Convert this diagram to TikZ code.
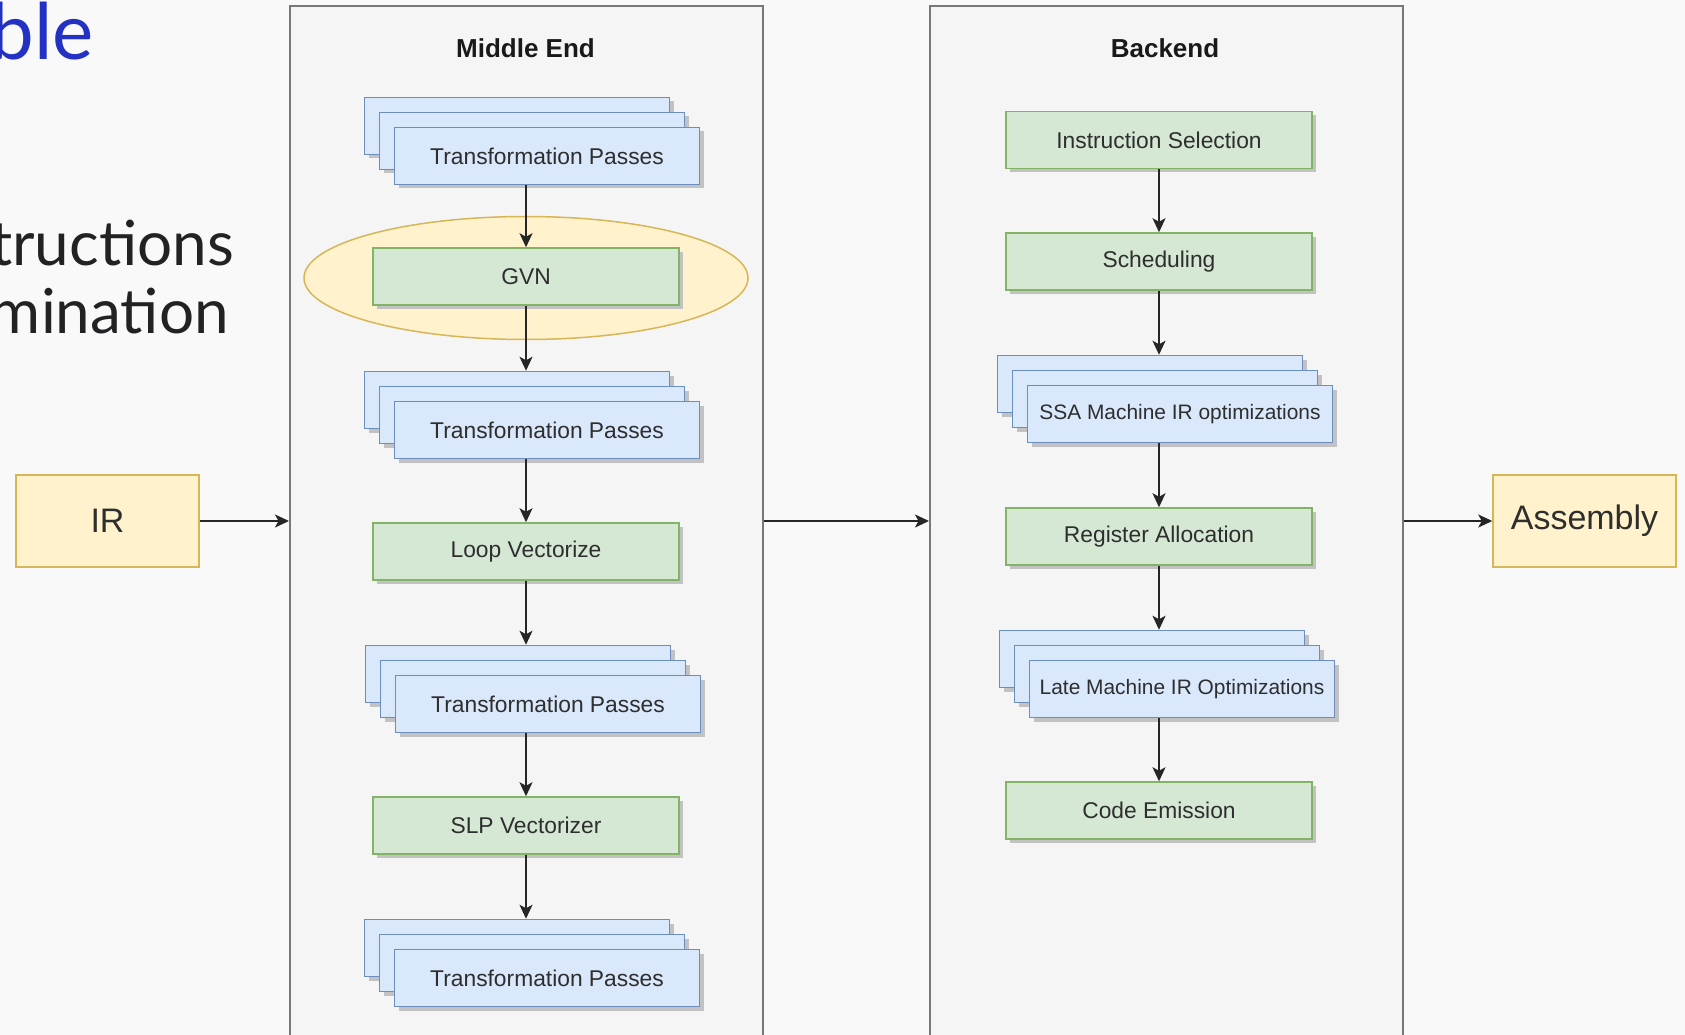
\documentclass[tikz,border=0pt]{standalone}
\usepackage{fontspec}
\setmainfont{Liberation Sans}
\newfontfamily\slidefont{Lato}
\usetikzlibrary{arrows.meta,shadows,shapes.geometric}
\definecolor{pagebg}{RGB}{249,249,249}
\definecolor{contfill}{RGB}{245,245,245}
\definecolor{contline}{RGB}{120,120,120}
\definecolor{greenfill}{HTML}{D5E8D4}
\definecolor{greenline}{HTML}{82B366}
\definecolor{bluefill}{HTML}{DAE8FC}
\definecolor{blueline}{HTML}{6C8EBF}
\definecolor{yelfill}{HTML}{FFF2CC}
\definecolor{yelline}{HTML}{D6B656}
\definecolor{slideblue}{RGB}{35,50,195}
\definecolor{slidetext}{RGB}{34,34,36}
\newcommand{\layerstack}[5]{% name, back cx, back cy, text, font style
  \node[bluebox] (#1-a) at (#2,#3) {};
  \node[bluebox] (#1-b) at (#2+15,#3+15) {};
  \node[bluebox,#5] (#1) at (#2+30,#3+30) {#4};
}
\begin{document}
\begin{tikzpicture}[x=1pt,y=-1pt,
  box/.style={rectangle, minimum width=306, minimum height=57, line width=1.5pt, inner sep=0pt, text=black!82,
    drop shadow={shadow xshift=4pt,shadow yshift=-4pt,opacity=1,fill=black!24}},
  tpfont/.style={font=\fontsize{22.8pt}{27pt}\selectfont},
  mirfont/.style={font=\fontsize{20.9pt}{25pt}\selectfont},
  greenbox/.style={box, draw=greenline, fill=greenfill, tpfont},
  bluebox/.style={box, draw=blueline, fill=bluefill, minimum width=305},
  container/.style={rectangle, draw=contline, fill=contfill, line width=1.8pt, minimum width=473, minimum height=1060, anchor=north west, inner sep=0pt},
  title/.style={font=\bfseries\fontsize{26pt}{30pt}\selectfont, text=black!90, inner sep=0pt},
  endbox/.style={rectangle, draw=yelline, fill=yelfill, line width=1.5pt, minimum width=183, minimum height=92, inner sep=0pt, font=\fontsize{34pt}{40pt}\selectfont, text=black!82},
  arr/.style={-{Stealth[length=14pt,width=13pt,inset=3.5pt]}, line width=1.6pt, draw=black!85},
]
\useasboundingbox (0,0) rectangle (1685,1035);
\begin{scope}
\clip (0,0) rectangle (1685,1035);
\fill[pagebg] (0,0) rectangle (1685,1035);

% slide text cut off on the left, as in the reference
\node[anchor=base east, inner sep=0pt, font=\slidefont\fontsize{78pt}{80pt}\selectfont, text=slideblue] (s0) at (94,60) {ble};
\node[anchor=base east, inner sep=0pt, font=\slidefont\fontsize{62pt}{64pt}\selectfont, text=slidetext] (s1) at (234,265) {tructions};
\node[anchor=base east, inner sep=0pt, font=\slidefont\fontsize{62pt}{64pt}\selectfont, text=slidetext] (s2) at (229,333) {mination};

% containers
\node[container] (mid) at (289,5) {};
\node[container] (be) at (929,5) {};
\node[title] (midtitle) at (525.5,48) {Middle End};
\node[title] (betitle) at (1165,48) {Backend};

% input / output
\node[endbox] (ir) at (107.5,521) {IR};
\node[endbox] (asm) at (1584.5,521) {Assembly};

% middle end column
\layerstack{tp1}{517}{126}{Transformation Passes}{tpfont}
\node[ellipse, draw=yelline, fill=yelfill, line width=1.5pt, minimum width=444, minimum height=123, inner sep=0pt] (hl) at (526,278) {};
\node[greenbox] (gvn) at (526,276.5) {GVN};
\layerstack{tp2}{517}{400}{Transformation Passes}{tpfont}
\node[greenbox] (loop) at (526,551.5) {Loop Vectorize};
\layerstack{tp3}{518}{674}{Transformation Passes}{tpfont}
\node[greenbox] (slp) at (526,825.5) {SLP Vectorizer};
\layerstack{tp4}{517}{948}{Transformation Passes}{tpfont}

% backend column
\node[greenbox] (is) at (1159,140) {Instruction Selection};
\node[greenbox] (sched) at (1159,261.5) {Scheduling};
\layerstack{ssa}{1150}{384}{SSA Machine IR optimizations}{mirfont}
\node[greenbox] (ra) at (1159,536.5) {Register Allocation};
\layerstack{late}{1152}{659}{Late Machine IR Optimizations}{mirfont}
\node[greenbox] (ce) at (1159,810.5) {Code Emission};

% connectors, middle end
\draw[arr] (tp1.south -| gvn.north) -- (gvn.north);
\draw[arr] (gvn.south) -- (gvn.south |- tp2-a.north);
\draw[arr] (tp2.south -| loop.north) -- (loop.north);
\draw[arr] (loop.south) -- (loop.south |- tp3-a.north);
\draw[arr] (tp3.south -| slp.north) -- (slp.north);
\draw[arr] (slp.south) -- (slp.south |- tp4-a.north);

% connectors, backend
\draw[arr] (is.south) -- (sched.north);
\draw[arr] (sched.south) -- (sched.south |- ssa-a.north);
\draw[arr] (ssa.south -| ra.north) -- (ra.north);
\draw[arr] (ra.south) -- (ra.south |- late-a.north);
\draw[arr] (late.south -| ce.north) -- (ce.north);

% connectors between stages
\draw[arr] (ir.east) -- (ir.east -| mid.west);
\draw[arr] (mid.east |- ir.east) -- (be.west |- ir.east);
\draw[arr] (be.east |- asm.west) -- (asm.west);
\end{scope}
\end{tikzpicture}
\end{document}
